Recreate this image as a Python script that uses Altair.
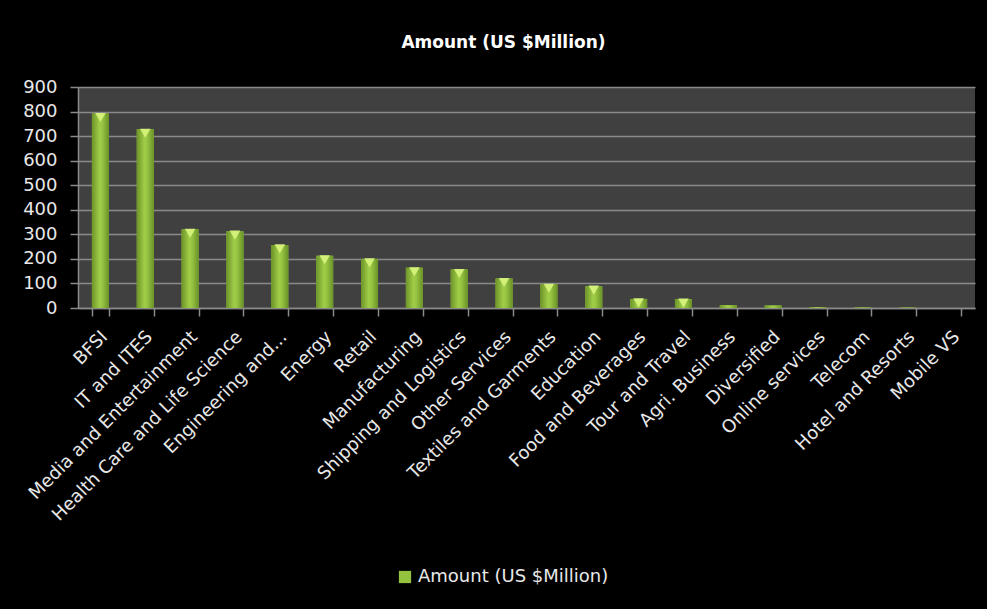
import altair as alt
import pandas as pd

categories = [
    "BFSI", "IT and ITES", "Media and Entertainment", "Health Care and Life Science",
    "Engineering and...", "Energy", "Retail", "Manufacturing", "Shipping and Logistics",
    "Other Services", "Textiles and Garments", "Education", "Food and Beverages",
    "Tour and Travel", "Agri. Business", "Diversified", "Online services", "Telecom",
    "Hotel and Resorts", "Mobile VS",
]
amounts = [792, 728, 321, 313, 257, 213, 200, 164, 157, 120, 97, 89, 37, 36, 11, 10, 3, 2, 1.5, 0.5]
series_name = "Amount (US $Million)"
y_ticks = [0, 100, 200, 300, 400, 500, 600, 700, 800, 900]

df = pd.DataFrame({"Sector": categories, "Amount": amounts, "Series": [series_name] * len(categories)})

FONT = "DejaVu Sans"
TEXT = "#e8e8e8"
GRID = "#8a8a8a"

x_enc = alt.X(
    "Sector:N",
    sort=categories,
    title=None,
    scale=alt.Scale(paddingInner=0.62, paddingOuter=0.31),
    axis=alt.Axis(
        labelAngle=-45,
        labelAlign="right",
        labelBaseline="middle",
        labelFontSize=18,
        labelFont=FONT,
        labelColor=TEXT,
        labelPadding=18,
        labelOffset=4,
        labelLimit=0,
        labelOverlap=False,
        tickBand="extent",
        tickSize=8,
        tickColor=GRID,
        tickWidth=1.5,
        domainColor=GRID,
        domainWidth=1.5,
        grid=False,
    ),
)
y_enc = alt.Y(
    "Amount:Q",
    title=None,
    scale=alt.Scale(domain=[0, 900], nice=False),
    axis=alt.Axis(
        values=y_ticks,
        labelFontSize=18,
        labelFont=FONT,
        labelColor=TEXT,
        labelPadding=13,
        tickSize=8,
        tickColor=GRID,
        tickWidth=1.5,
        grid=True,
        gridColor=GRID,
        gridWidth=1.5,
        domainColor=GRID,
        domainWidth=1.5,
    ),
)

base = alt.Chart(df)

legend_bars = base.mark_bar().encode(
    x=x_enc,
    y=y_enc,
    color=alt.Color(
        "Series:N",
        scale=alt.Scale(domain=[series_name], range=["#94c13e"]),
        legend=alt.Legend(
            title=None,
            orient="none",
            legendX=318,
            legendY=481,
            symbolType="square",
            symbolSize=150,
            symbolStrokeWidth=0,
            labelFont=FONT,
            labelFontSize=18,
            labelColor=TEXT,
            labelLimit=0,
        ),
    ),
)

grad_bars = base.mark_bar(
    color=alt.Gradient(
        gradient="linear",
        x1=0, x2=1, y1=0, y2=0,
        stops=[
            alt.GradientStop(offset=0, color="#6c9428"),
            alt.GradientStop(offset=0.45, color="#a0cd48"),
            alt.GradientStop(offset=0.6, color="#98c643"),
            alt.GradientStop(offset=1, color="#6a9227"),
        ],
    )
).encode(x=x_enc, y=y_enc)

caps = base.transform_filter(alt.datum.Amount >= 30).mark_point(
    shape="triangle-down", filled=True, color="#d6f27c", opacity=0.95, size=110, yOffset=4
).encode(x=x_enc, y=y_enc)

chart = (
    alt.layer(legend_bars, grad_bars, caps)
    .properties(
        width=897,
        height=221,
        title=alt.TitleParams(
            text=series_name, font=FONT, fontSize=17, fontWeight="bold", color="#ffffff",
            anchor="middle", offset=26, dx=-23,
        ),
        autosize=alt.AutoSizeParams(type="none"),
        padding={"left": 78, "top": 87, "right": 12, "bottom": 301},
        background="#000000",
    )
    .configure_view(fill="#404040", strokeWidth=0)
)

chart.save("out.html", embed_options={"renderer": "svg", "actions": False})
